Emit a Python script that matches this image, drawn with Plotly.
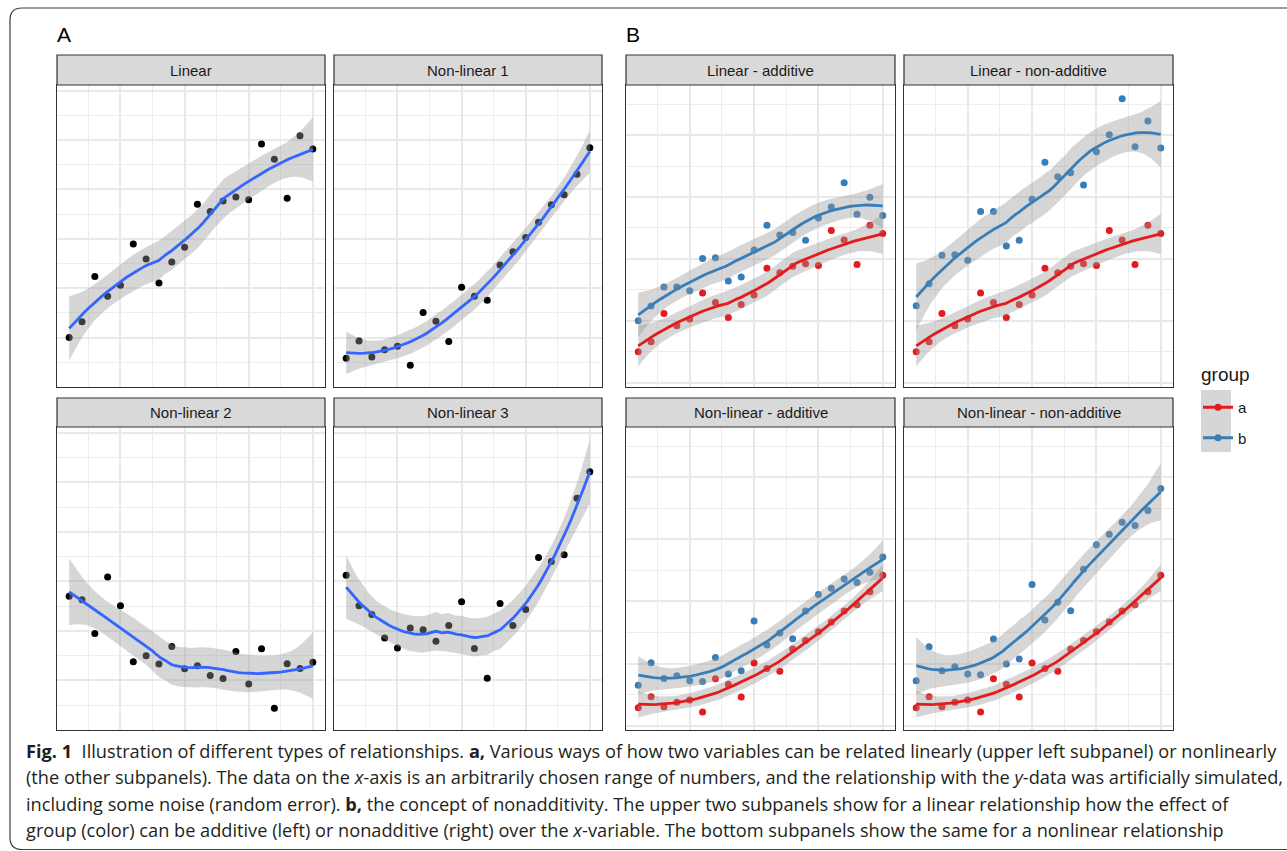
import numpy as np
import plotly.graph_objects as go

W, H = 1287, 851

# ---------------- data ----------------
x_vals = [1, 2, 3, 4, 5, 6, 7, 8, 9, 10, 11, 12, 13, 14, 15, 16, 17, 18, 19, 20]

linear = [2.00, 2.64, 4.47, 3.68, 4.12, 5.79, 5.18, 4.21, 5.06, 5.66,
          7.40, 7.11, 7.53, 7.69, 7.58, 9.84, 9.22, 7.64, 10.17, 9.64]
nonlinear1 = [1.16, 1.86, 1.21, 1.51, 1.65, 0.88, 3.02, 2.66, 1.84, 4.04,
              3.68, 3.51, 4.94, 5.48, 6.05, 6.67, 7.38, 7.79, 8.62, 9.69]
nonlinear2 = [5.40, 5.26, 3.89, 6.18, 5.02, 2.75, 3.00, 2.66, 3.37, 2.47,
              2.59, 2.20, 2.08, 3.17, 1.86, 3.28, 0.88, 2.67, 2.48, 2.73]
nonlinear3 = [6.25, 5.02, 4.66, 3.71, 3.31, 4.12, 4.05, 3.58, 4.22, 5.18,
              3.29, 2.09, 5.11, 4.22, 4.86, 6.96, 6.80, 7.07, 9.35, 10.42]

# panel B, group "a" re-uses the panel A series; group "b":
lin_add_b = [4.00, 4.95, 6.18, 6.18, 5.94, 8.03, 8.07, 6.57, 6.83, 8.57,
             10.17, 9.54, 9.71, 9.20, 10.64, 11.35, 12.92, 10.88, 11.98, 10.81]
lin_nonadd_b = [4.97, 6.39, 8.23, 8.27, 7.91, 11.07, 11.07, 8.83, 9.20, 11.85,
                14.24, 13.31, 13.57, 12.77, 14.93, 16.03, 18.35, 15.25, 16.91, 15.16]
nl_add_b = [2.61, 4.05, 3.04, 3.21, 2.89, 2.84, 4.39, 3.32, 3.53, 6.75,
            5.20, 5.97, 5.60, 7.39, 8.45, 8.85, 9.44, 9.22, 9.89, 10.86]
nl_nonadd_b = [2.89, 5.09, 3.53, 3.79, 3.32, 3.28, 5.58, 3.97, 4.29, 9.09,
               6.81, 7.95, 7.41, 10.08, 11.66, 12.33, 13.10, 12.89, 13.86, 15.28]

panel_titles_A = ["Linear", "Non-linear 1", "Non-linear 2", "Non-linear 3"]
panel_titles_B = ["Linear - additive", "Linear - non-additive",
                  "Non-linear - additive", "Non-linear - non-additive"]
group_labels = ["a", "b"]
legend_title = "group"

caption_lines = [
    "<b>Fig. 1</b>\u00a0\u00a0Illustration of different types of relationships. <b>a,</b> Various ways of how two variables can be related linearly (upper left subpanel) or nonlinearly",
    "(the other subpanels). The data on the <i>x</i>-axis is an arbitrarily chosen range of numbers, and the relationship with the <i>y</i>-data was artificially simulated,",
    "including some noise (random error). <b>b,</b> the concept of nonadditivity. The upper two subpanels show for a linear relationship how the effect of",
    "group (color) can be additive (left) or nonadditive (right) over the <i>x</i>-variable. The bottom subpanels show the same for a nonlinear relationship",
]


# ---------------- loess smoother (as geom_smooth: span .75, degree 2, 95% CI) ----------------
def _t975(df):
    z = 1.959963985
    g1 = (z**3 + z) / 4
    g2 = (5 * z**5 + 16 * z**3 + 3 * z) / 96
    g3 = (3 * z**7 + 19 * z**5 + 17 * z**3 - 15 * z) / 384
    g4 = (79 * z**9 + 776 * z**7 + 1482 * z**5 - 1920 * z**3 - 945 * z) / 92160
    return z + g1 / df + g2 / df**2 + g3 / df**3 + g4 / df**4


def loess_smooth(x, y, n_out=80, span=0.75):
    x = np.asarray(x, float)
    y = np.asarray(y, float)
    n = len(x)
    q = int(np.floor(n * span + 1e-5))

    def row(x0):
        d = np.abs(x - x0)
        h = np.sort(d)[q - 1]
        u = d / h
        w = np.where(u < 1, (1 - u**3) ** 3, 0.0)
        X = np.vstack([np.ones(n), x - x0, (x - x0) ** 2]).T
        XtW = X.T * w
        return np.linalg.solve(XtW @ X, XtW)[0]

    L = np.array([row(v) for v in x])
    res = y - L @ y
    M = (np.eye(n) - L).T @ (np.eye(n) - L)
    d1 = np.trace(M)
    d2 = np.trace(M @ M)
    s = np.sqrt(res @ res / d1)
    xo = np.linspace(x.min(), x.max(), n_out)
    Lo = np.array([row(v) for v in xo])
    fit = Lo @ y
    se = s * np.sqrt((Lo**2).sum(axis=1))
    t = _t975(d1**2 / d2)
    return xo, fit, fit - t * se, fit + t * se


# ---------------- layout geometry ----------------
cols = [(57, 325), (334, 602), (626, 895), (904, 1173)]
rows = [(85, 387), (427, 730)]
strips = [(55, 85), (398, 427)]

RED, BLUE, SMOOTH_A = "#E41A1C", "#377EB8", "#3366FF"
RIBBON = "rgba(153,153,153,0.4)"
GRID_MAJ, GRID_MIN = "#E9E9E9", "#EDEDED"


def px(xp):
    return xp / W


def py(yp):
    return 1 - yp / H


panels = [
    dict(title=panel_titles_A[0], r=0, c=0, series=[linear], colors=["black"], line=[SMOOTH_A], sect="A"),
    dict(title=panel_titles_A[1], r=0, c=1, series=[nonlinear1], colors=["black"], line=[SMOOTH_A], sect="A"),
    dict(title=panel_titles_A[2], r=1, c=0, series=[nonlinear2], colors=["black"], line=[SMOOTH_A], sect="A"),
    dict(title=panel_titles_A[3], r=1, c=1, series=[nonlinear3], colors=["black"], line=[SMOOTH_A], sect="A"),
    dict(title=panel_titles_B[0], r=0, c=2, series=[linear, lin_add_b], colors=[RED, BLUE], line=[RED, BLUE], sect="B"),
    dict(title=panel_titles_B[1], r=0, c=3, series=[linear, lin_nonadd_b], colors=[RED, BLUE], line=[RED, BLUE], sect="B"),
    dict(title=panel_titles_B[2], r=1, c=2, series=[nonlinear1, nl_add_b], colors=[RED, BLUE], line=[RED, BLUE], sect="B"),
    dict(title=panel_titles_B[3], r=1, c=3, series=[nonlinear1, nl_nonadd_b], colors=[RED, BLUE], line=[RED, BLUE], sect="B"),
]

fig = go.Figure()
layout = dict(
    width=W, height=H, margin=dict(l=0, r=0, t=0, b=0),
    paper_bgcolor="white", plot_bgcolor="white", showlegend=True,
    font=dict(family="Liberation Sans, Arial, sans-serif", color="#1A1A1A"),
)
shapes, annotations = [], []

for i, p in enumerate(panels):
    k = i + 1
    xa = "x" if k == 1 else f"x{k}"
    ya = "y" if k == 1 else f"y{k}"
    c0, c1 = cols[p["c"]]
    r0, r1 = rows[p["r"]]
    if p["sect"] == "A":
        yr = [0, 12.23]
        ymaj = [2, 4, 6, 8, 10, 12]
        ymin = [1, 3, 5, 7, 9, 11]
    else:
        yr = [-0.28, 19.24]
        ymaj = [0, 4, 8, 12, 16]
        ymin = [2, 6, 10, 14, 18]
    common = dict(showticklabels=False, ticks="", zeroline=False, showline=True, mirror=True,
                  linecolor="#333333", linewidth=1.2, showgrid=True, gridcolor=GRID_MAJ,
                  gridwidth=1.8, fixedrange=True)
    layout[f"xaxis{k}"] = dict(domain=[px(c0), px(c1)], anchor=ya, range=[0.05, 20.95],
                               tickvals=[5, 10, 15, 20],
                               minor=dict(tickvals=[2.5, 7.5, 12.5, 17.5], showgrid=True,
                                          gridcolor=GRID_MIN, gridwidth=1.3, ticks=""),
                               **common)
    layout[f"yaxis{k}"] = dict(domain=[py(r1), py(r0)], anchor=xa, range=yr, tickvals=ymaj,
                               minor=dict(tickvals=ymin, showgrid=True, gridcolor=GRID_MIN,
                                          gridwidth=1.3, ticks=""),
                               **common)
    # points
    for s, col in zip(p["series"], p["colors"]):
        fig.add_trace(go.Scatter(x=x_vals, y=s, mode="markers", xaxis=xa, yaxis=ya,
                                 marker=dict(size=7, color=col, line=dict(width=0)),
                                 showlegend=False, hoverinfo="skip"))
    # smooths: ribbon then line per group
    for s, lc in zip(p["series"], p["line"]):
        xo, fit, lo, hi = loess_smooth(x_vals, s)
        fig.add_trace(go.Scatter(x=np.concatenate([xo, xo[::-1]]), y=np.concatenate([hi, lo[::-1]]),
                                 mode="lines", fill="toself", fillcolor=RIBBON, line=dict(width=0),
                                 xaxis=xa, yaxis=ya, showlegend=False, hoverinfo="skip"))
        fig.add_trace(go.Scatter(x=xo, y=fit, mode="lines", line=dict(color=lc, width=2.8),
                                 xaxis=xa, yaxis=ya, showlegend=False, hoverinfo="skip"))
    # strip
    s0, s1 = strips[p["r"]]
    shapes.append(dict(type="rect", xref="paper", yref="paper", x0=px(c0), x1=px(c1),
                       y0=py(s1), y1=py(s0), fillcolor="#D9D9D9",
                       line=dict(color="#333333", width=1.2), layer="above"))
    annotations.append(dict(text=p["title"], xref="paper", yref="paper", x=px((c0 + c1) / 2),
                            y=py((s0 + s1) / 2), showarrow=False, xanchor="center", yanchor="middle",
                            font=dict(size=15, color="#1A1A1A", family="Liberation Sans, Arial")))

# legend proxies for group a / b
for lab, col in zip(group_labels, [RED, BLUE]):
    fig.add_trace(go.Scatter(x=[None], y=[None], mode="lines+markers", name=lab,
                             legendgroup=lab, line=dict(color=col, width=3),
                             marker=dict(size=7, color=col), xaxis="x3", yaxis="y3"))

layout["legend"] = dict(x=px(1198), y=py(391), xanchor="left", yanchor="top",
                        bgcolor="rgba(0,0,0,0)", borderwidth=0,
                        font=dict(size=15, color="#1A1A1A"), itemwidth=30,
                        traceorder="grouped", tracegroupgap=8)
annotations.append(dict(text=legend_title, xref="paper", yref="paper", x=px(1199), y=py(374),
                        showarrow=False, xanchor="left", yanchor="middle",
                        font=dict(size=19, color="#1A1A1A", family="Liberation Sans, Arial")))
shapes.append(dict(type="rect", xref="paper", yref="paper", x0=px(1201), x1=px(1231),
                   y0=py(452), y1=py(390), fillcolor="#D6D6D6", line=dict(width=0), layer="below"))

# panel tags
for tag, xp in [("A", 57), ("B", 626)]:
    annotations.append(dict(text=tag, xref="paper", yref="paper", x=px(xp - 2), y=py(34),
                            showarrow=False, xanchor="left", yanchor="middle",
                            font=dict(size=21, color="#000000", family="Liberation Sans, Arial")))

# caption
for j, line in enumerate(caption_lines):
    annotations.append(dict(text=line, xref="paper", yref="paper", x=px(24), y=py(751 + 26.3 * j),
                            showarrow=False, xanchor="left", yanchor="middle",
                            font=dict(size=18.2, color="#231F20", family="Open Sans, sans-serif")))

# outer frame with rounded corners
R = 12
fx0, fy0, fx1, fy1 = 10, 8, 1300, 849.5
path = (f"M {px(fx1)},{py(fy0)} L {px(fx0 + R)},{py(fy0)} Q {px(fx0)},{py(fy0)} {px(fx0)},{py(fy0 + R)} "
        f"L {px(fx0)},{py(fy1 - R)} Q {px(fx0)},{py(fy1)} {px(fx0 + R)},{py(fy1)} L {px(fx1)},{py(fy1)}")
shapes.append(dict(type="path", xref="paper", yref="paper", path=path,
                   line=dict(color="#3C3C3C", width=1.2)))

layout["shapes"] = shapes
layout["annotations"] = annotations
fig.update_layout(**layout)

fig.write_html("out.html", post_script="document.body.style.margin='0px';",
               config={"displayModeBar": False})
